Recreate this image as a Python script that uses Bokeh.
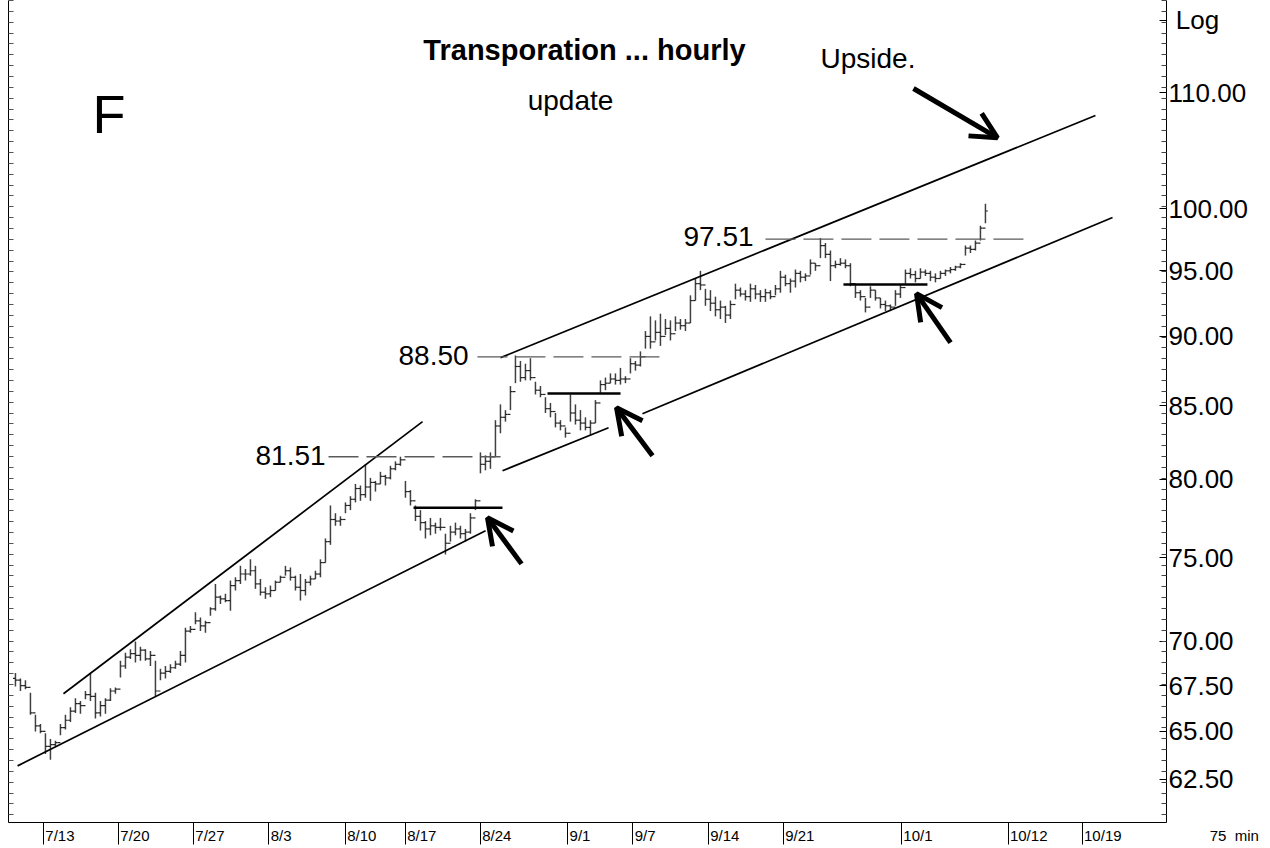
import numpy as np
from bokeh.plotting import figure
from bokeh.models import Range1d, LogAxis, FixedTicker, Label, Arrow, OpenHead, PrintfTickFormatter
from bokeh.embed import file_html
from bokeh.resources import INLINE

# ---------------- data (hourly bars, 3 per trading day) ----------------
highs = [68.2, 67.9, 67.8, 67.1, 65.9, 65.4, 64.9, 64.6, 64.5, 65.4,
         65.9, 66.3, 66.8, 66.65, 67.2, 68.2, 67.1, 66.65, 66.8, 67.35,
         67.4, 68.9, 69.35, 69.55, 70.0, 69.7, 69.55, 69.45, 68.9, 68.45,
         68.6, 68.7, 68.9, 69.45, 70.8, 70.9, 71.7, 71.4, 71.2, 72.0,
         73.4, 72.7, 72.8, 73.6, 73.8, 74.5, 74.3, 74.9, 74.5, 73.7,
         73.2, 73.3, 73.6, 73.9, 74.5, 74.4, 73.9, 74.0, 73.7, 73.9,
         74.2, 74.9, 76.2, 78.3, 77.8, 77.6, 78.5, 78.9, 79.7, 79.6,
         81.0, 80.1, 79.9, 80.5, 80.3, 80.9, 81.2, 81.51, 79.9, 79.3,
         78.3, 78.0, 77.3, 77.5, 77.2, 77.5, 76.5, 77.0, 77.2, 77.0,
         76.8, 77.8, 78.7, 81.8, 81.6, 81.8, 84.0, 85.1, 84.7, 86.4,
         88.6, 88.2, 88.0, 88.4, 86.7, 86.4, 85.6, 85.2, 84.5, 84.0,
         83.5, 85.8, 85.1, 84.7, 84.2, 84.0, 85.4, 86.8, 87.0, 87.3,
         87.3, 87.7, 87.1, 88.4, 88.2, 88.9, 90.4, 91.5, 91.2, 91.7,
         91.3, 91.2, 91.5, 91.3, 91.3, 93.1, 94.4, 95.0, 93.6, 93.5,
         93.0, 92.7, 92.3, 92.7, 94.0, 93.7, 93.5, 94.0, 93.9, 93.5,
         93.6, 93.5, 93.9, 95.0, 94.7, 94.4, 95.1, 95.0, 94.8, 95.9,
         95.6, 97.6, 97.2, 96.6, 95.8, 96.0, 95.9, 95.6, 94.0, 93.5,
         92.9, 93.8, 93.5, 92.9, 92.7, 92.4, 93.5, 93.9, 95.1, 95.2,
         95.0, 95.2, 95.1, 95.0, 94.8, 95.0, 95.1, 95.3, 95.4, 95.6,
         97.0, 97.0, 97.4, 98.6, 100.4]
lows = [67.45, 67.2, 67.3, 65.9, 65.0, 64.9, 63.8, 63.5, 64.2, 64.8,
        65.1, 65.5, 66.0, 65.95, 66.75, 66.65, 65.7, 65.8, 65.95, 66.65,
        67.05, 67.95, 68.45, 69.0, 68.8, 68.9, 68.9, 68.6, 66.9, 67.8,
        67.9, 68.2, 68.45, 68.6, 68.8, 70.5, 71.0, 70.6, 70.5, 71.5,
        71.8, 72.2, 72.3, 71.8, 73.0, 73.4, 73.6, 73.9, 73.1, 72.7,
        72.5, 72.6, 73.0, 73.5, 73.9, 73.6, 73.0, 72.4, 72.7, 73.3,
        73.7, 73.8, 74.7, 75.8, 77.0, 77.0, 77.8, 78.0, 78.5, 78.6,
        78.8, 78.6, 79.2, 79.7, 79.6, 80.0, 80.6, 80.9, 78.8, 78.3,
        77.3, 76.7, 76.2, 76.4, 76.5, 76.7, 75.2, 76.0, 76.4, 76.2,
        76.0, 76.5, 78.0, 80.4, 80.6, 80.7, 81.5, 83.1, 83.9, 84.7,
        86.6, 86.7, 86.8, 86.8, 85.8, 85.6, 84.5, 84.2, 83.5, 83.3,
        82.8, 83.9, 83.7, 83.3, 83.3, 83.0, 83.8, 85.9, 86.1, 86.6,
        86.5, 86.5, 86.6, 87.3, 87.5, 87.8, 89.1, 89.1, 89.7, 89.3,
        90.1, 89.7, 90.4, 90.5, 90.4, 91.0, 92.7, 93.5, 92.3, 91.9,
        91.5, 91.3, 91.0, 91.3, 92.8, 93.0, 92.7, 92.6, 92.8, 92.6,
        92.6, 92.8, 93.1, 93.3, 93.8, 93.3, 93.7, 94.1, 94.2, 94.7,
        95.0, 96.0, 96.0, 94.2, 95.2, 95.4, 95.2, 93.8, 92.9, 92.7,
        91.8, 92.9, 92.7, 92.1, 91.9, 91.9, 92.3, 92.9, 94.0, 94.4,
        94.1, 94.4, 94.6, 94.2, 94.1, 94.4, 94.6, 94.8, 95.0, 95.2,
        96.2, 96.4, 96.6, 97.4, 98.8]
closes = [67.8, 67.5, 67.4, 66.0, 65.3, 65.0, 64.2, 64.3, 64.4, 65.2,
          65.6, 66.1, 66.5, 66.4, 67.0, 66.9, 66.0, 66.4, 66.7, 67.2,
          67.3, 68.6, 69.1, 69.3, 69.2, 69.5, 69.0, 69.2, 67.2, 68.2,
          68.3, 68.5, 68.7, 69.2, 70.6, 70.7, 71.2, 70.9, 71.1, 71.9,
          72.6, 72.5, 72.4, 73.3, 73.6, 74.0, 74.0, 74.2, 73.4, 72.9,
          72.8, 73.0, 73.5, 73.8, 74.2, 73.8, 73.2, 73.0, 73.5, 73.7,
          74.0, 74.7, 76.0, 77.4, 77.3, 77.4, 78.3, 78.7, 79.4, 79.0,
          79.5, 79.8, 79.7, 80.2, 80.1, 80.7, 81.0, 81.3, 79.2, 78.6,
          77.6, 77.2, 76.8, 77.0, 76.9, 76.9, 75.9, 76.6, 76.8, 76.5,
          76.6, 77.5, 78.6, 81.0, 81.2, 81.5, 83.6, 84.2, 84.4, 86.0,
          87.8, 87.0, 87.5, 87.0, 86.1, 85.8, 84.8, 84.6, 83.8, 83.6,
          83.1, 84.5, 84.0, 83.8, 83.5, 83.8, 85.2, 86.5, 86.6, 86.9,
          86.8, 86.9, 86.9, 88.0, 87.9, 88.5, 90.0, 89.6, 90.3, 90.0,
          90.6, 90.2, 91.0, 90.8, 91.0, 92.7, 94.0, 93.9, 92.8, 92.5,
          92.0, 92.2, 91.6, 92.4, 93.5, 93.2, 93.0, 93.6, 93.2, 93.0,
          93.3, 93.0, 93.6, 94.5, 94.0, 94.2, 94.8, 94.5, 94.6, 95.6,
          95.4, 97.0, 96.3, 95.4, 95.5, 95.6, 95.4, 94.0, 93.3, 93.0,
          92.2, 93.5, 92.9, 92.4, 92.3, 92.2, 93.2, 93.7, 94.8, 94.7,
          94.4, 94.9, 94.8, 94.5, 94.4, 94.8, 95.0, 95.1, 95.3, 95.5,
          96.8, 96.7, 97.2, 98.4, 99.8]
first_open = 67.9
first_bar_day = -1.87          # trading-day index of the first bar (7/13 = 0)
bars_per_day = 3

# x-axis: trading-day positions of the date marks
date_labels = ["7/13", "7/20", "7/27", "8/3", "8/10", "8/17", "8/24",
               "9/1", "9/7", "9/14", "9/21", "10/1", "10/12", "10/19"]
date_days = [0.0, 5.0, 10.0, 15.0, 20.13, 24.13, 29.13,
             34.93, 39.27, 44.33, 49.33, 57.2, 64.33, 69.27]
interval_label = "75\u00a0\u00a0min"
interval_day = 74.8

# y-axis labelled prices
price_ticks = [62.5, 65.0, 67.5, 70.0, 75.0, 80.0, 85.0, 90.0, 95.0, 100.0, 110.0]
scale_label = "Log"
scale_label_price = 116.8

# trendlines (day, price)
wedge_low_d, wedge_low_p = [-1.73, 29.47], [63.18, 76.68]
wedge_up_d, wedge_up_p = [1.33, 25.27], [67.05, 83.9]
chan_low1_d, chan_low1_p = [30.6, 37.67], [80.57, 83.48]
chan_low2_d, chan_low2_p = [39.93, 71.27], [84.45, 99.26]
chan_up_d, chan_up_p = [30.47, 70.13], [88.44, 107.97]

# dashed reference levels
level_values = [81.51, 88.50, 97.51]
level_start = [19.0, 28.93, 48.13]
level_end = [30.47, 41.27, 65.47]

# solid breakout levels
shelf_values = [78.15, 85.86, 93.93]
shelf_start = [24.67, 33.6, 53.33]
shelf_end = [30.6, 38.47, 58.93]

# arrows (tail -> tip)
arrow_x0 = [31.87, 40.6, 60.47, 58.0]
arrow_y0 = [74.62, 81.58, 89.54, 110.4]
arrow_x1 = [29.6, 38.2, 58.2, 63.6]
arrow_y1 = [77.51, 84.87, 93.23, 106.0]

# ---------------- figure ----------------
PX_PER_DAY = 15.0
X0_PX = 43.0          # canvas x of day 0
LN_PX = 1213.0        # pixels per unit of ln(price)
Y100_PX = 208.0       # canvas y of price 100

p = figure(width=1270, height=848, y_axis_type="log",
           x_range=Range1d(-2.333, 74.867), y_range=Range1d(60.3, 118.7),
           output_backend="svg", toolbar_location=None, y_axis_location="right",
           min_border_left=8, min_border_right=104, min_border_top=0, min_border_bottom=26)
p.outline_line_color = None
p.grid.visible = False
p.background_fill_color = "white"
p.border_fill_color = "white"

FONT = "Liberation Sans"

# right price axis
ln_top, ln_bot = np.log(118.7), np.log(60.3)
step = 10.85 / LN_PX
minor_vals = list(np.exp(np.arange(ln_top, ln_bot, -step)))
ya = p.yaxis[0]
ya.ticker = FixedTicker(ticks=price_ticks + [scale_label_price], minor_ticks=minor_vals)
ya.formatter = PrintfTickFormatter(format="%.2f")
ya.major_label_overrides = {scale_label_price: "\u00a0" + scale_label}
ya.major_tick_in = 7
ya.major_tick_out = 0
ya.minor_tick_in = 5
ya.minor_tick_out = 0
ya.major_label_standoff = 2
ya.major_label_text_font = FONT
ya.major_label_text_font_size = "26px"
ya.major_label_text_color = "black"
ya.axis_line_color = "black"
ya.major_tick_line_color = "black"
ya.minor_tick_line_color = "#444444"

# left bare axis with ticks only (no labels)
la = LogAxis(ticker=FixedTicker(ticks=[], minor_ticks=minor_vals))
la.major_tick_in = 0
la.major_tick_out = 0
la.minor_tick_in = 5
la.minor_tick_out = 0
la.axis_line_color = "black"
la.minor_tick_line_color = "#555555"
p.add_layout(la, "left")

# bottom date axis: tick bars at dates, labels just to their right
DATE_FONT_PX = 15
char_w = {"/": 0.278}
def text_w(t):
    return sum(char_w.get(c, 0.556) for c in t) * DATE_FONT_PX * 0.92
label_pos = [d + (3 + 0.5 * text_w(t)) / PX_PER_DAY for d, t in zip(date_days, date_labels)]
overrides = {pos: t for pos, t in zip(label_pos, date_labels)}
overrides[interval_day] = "\u00a0" * 33 + interval_label
xa = p.xaxis[0]
xa.ticker = FixedTicker(ticks=label_pos + [interval_day], minor_ticks=date_days)
xa.major_label_overrides = overrides
xa.major_tick_in = 0
xa.major_tick_out = 0
xa.minor_tick_in = 0
xa.minor_tick_out = 22
xa.minor_tick_line_color = "black"
xa.major_label_standoff = -18
xa.major_label_text_font = FONT
xa.major_label_text_font_size = f"{DATE_FONT_PX}px"
xa.major_label_text_color = "black"
xa.axis_line_color = "black"

# bars
n = len(highs)
bx = first_bar_day + np.arange(n) / bars_per_day
opens = [first_open] + closes[:-1]
tick_w = 0.16
p.segment(x0=bx, y0=lows, x1=bx, y1=highs, line_color="#404040", line_width=1.5)
p.segment(x0=bx - tick_w, y0=opens, x1=bx, y1=opens, line_color="#202020", line_width=1.2)
p.segment(x0=bx, y0=closes, x1=bx + tick_w, y1=closes, line_color="#202020", line_width=1.2)

# trendlines
for xs, ys in [(wedge_low_d, wedge_low_p), (wedge_up_d, wedge_up_p),
               (chan_low1_d, chan_low1_p), (chan_low2_d, chan_low2_p),
               (chan_up_d, chan_up_p)]:
    p.line(xs, ys, line_color="black", line_width=1.7)

# dashed levels
p.segment(x0=level_start, y0=level_values, x1=level_end, y1=level_values,
          line_color="#5a5a5a", line_width=1.4, line_dash="30 8")

# breakout shelves
p.segment(x0=shelf_start, y0=shelf_values, x1=shelf_end, y1=shelf_values,
          line_color="black", line_width=2.5)

# arrows
for x0, y0, x1, y1 in zip(arrow_x0, arrow_y0, arrow_x1, arrow_y1):
    p.add_layout(Arrow(end=OpenHead(size=26, line_width=5, line_color="black"),
                       x_start=x0, y_start=y0, x_end=x1, y_end=y1,
                       line_color="black", line_width=5))

# texts, placed by canvas pixel position of their baseline
def lab(txt, px, py, size_px, align="left", style="normal"):
    py_adj = py - 0.35 * size_px      # compensate the SVG baseline offset
    x = (px - X0_PX) / PX_PER_DAY
    y = 100.0 * np.exp((Y100_PX - py_adj) / LN_PX)
    p.add_layout(Label(x=x, y=y, text=txt, text_font=FONT, text_font_size=f"{size_px}px",
                       text_align=align, text_baseline="alphabetic",
                       text_font_style=style, text_color="black"))

lab("F", 92, 132, 54)
lab("Transporation ... hourly", 584, 60, 29, align="center", style="bold")
lab("update", 570, 110, 28, align="center")
lab("Upside.", 820, 68, 28)
lab("81.51", 255, 465, 28)
lab("88.50", 398, 365, 28)
lab("97.51", 683, 246, 28)

open("out.html", "w").write(file_html(p, INLINE))
